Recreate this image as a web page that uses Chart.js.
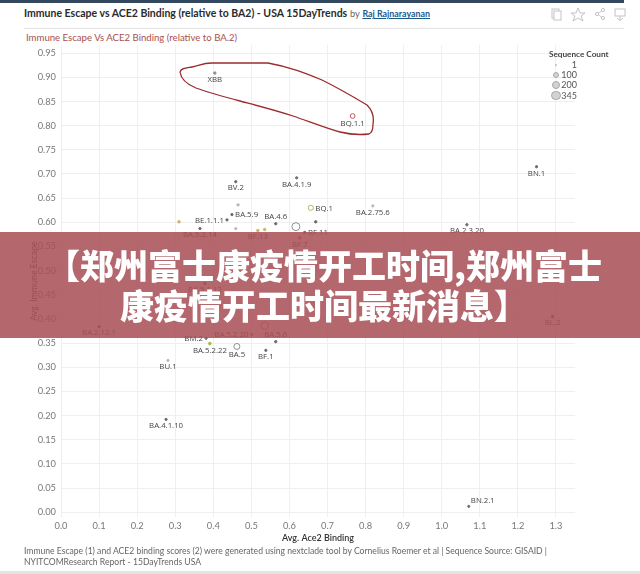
<!DOCTYPE html>
<html>
<head>
<meta charset="utf-8">
<script src="https://cdn.jsdelivr.net/npm/chart.js@4.4.1/dist/chart.umd.min.js"></script>
<style>
  html, body { margin: 0; padding: 0; }
  body { width: 640px; height: 574px; overflow: hidden; background: #fff; position: relative;
         font-family: "Lato", "Open Sans", "DejaVu Sans", sans-serif; }
  #topbar { position: absolute; left: 0; top: 0; width: 624px; height: 3px; background: #34495e; }
  #title { position: absolute; left: 24px; top: 7px; font-size: 10.5px; color: #333; white-space: nowrap; }
  #title b { font-weight: 700; color: #2b2b2b; }
  #title .by { color: #666; font-size: 9.2px; }
  #title .author { color: #1d5a8c; text-decoration: underline; font-weight: 700; font-size: 8.9px; }
  #sep { position: absolute; left: 24px; top: 28px; width: 600px; height: 1px; background: #e2e2e2; }
  #subtitle { position: absolute; left: 26px; top: 32px; font-size: 9.6px; color: #a8504f; white-space: nowrap; }
  #icons { position: absolute; left: 545px; top: 6px; }
  #chartbox { position: absolute; left: 0; top: 0; width: 640px; height: 574px; }
  #loop { position: absolute; left: 0; top: 0; width: 640px; height: 574px; pointer-events: none; }
  #legend { position: absolute; left: 549px; top: 49px; font-size: 8.2px; color: #555; }
  #legend .lt { font-weight: 700; color: #444; white-space: nowrap; }
  #legend .row { position: absolute; left: 0; width: 28px; height: 10px; }
  #legend .row span { position: absolute; right: 0; top: 0; line-height: 10px; font-size: 9px; color: #555; }
  #legend .row i { position: absolute; border-radius: 50%; background: #d2d2d2; border: 1px solid #a8a8a8; box-sizing: border-box; }
  #footer { position: absolute; left: 24px; top: 546px; font-size: 8.6px; color: #666; line-height: 11px; white-space: nowrap; }
  #bottombar { position: absolute; left: 0; top: 571px; width: 640px; height: 3px; background: #e4e4e4; }
  #banner { position: absolute; left: 0; top: 232px; width: 640px; height: 106px; background: rgba(168, 78, 84, 0.86);
            color: #fff; text-align: center; font-family: "Noto Sans CJK SC", sans-serif; font-weight: 900;
            font-size: 34px; line-height: 40px; padding-top: 13px; padding-left: 8px; box-sizing: border-box; white-space: nowrap; }
</style>
</head>
<body>
<div id="topbar"></div>
<div id="title"><b>Immune Escape vs ACE2 Binding (relative to BA2) - USA 15DayTrends</b> <span class="by">by</span> <span class="author">Raj Rajnarayanan</span></div>
<svg id="icons" width="92" height="16" viewBox="0 0 92 16">
  <g fill="none" stroke="#c4c4c4" stroke-width="1">
    <rect x="7" y="3" width="7" height="9"/><rect x="9" y="5" width="7" height="9" fill="#fff"/>
    <path d="M33 2 L35 7 L40 7 L36 10 L38 15 L33 12 L28 15 L30 10 L26 7 L31 7 Z"/>
    <circle cx="52" cy="8" r="1.6"/><circle cx="58" cy="4" r="1.6"/><circle cx="58" cy="12" r="1.6"/>
    <path d="M53.5 7 L56.5 5 M53.5 9 L56.5 11"/>
    <rect x="70" y="3" width="10" height="7"/><path d="M75 10 L75 14 M72 12 L75 14.5 L78 12"/>
  </g>
</svg>
<div id="sep"></div>
<div id="subtitle">Immune Escape Vs ACE2 Binding (relative to BA.2)</div>

<div id="chartbox"><canvas id="c" width="640" height="574"></canvas></div>

<svg id="loop" viewBox="0 0 640 574">
  <path d="M180 72 C181 68 186 68 192 67 C198 66 203 63 212 63 L268 63 C290 67 305 73 322 80 C340 89 357 99 367 105 C373 111 374 118 373 124 C373 130 372 133 369 134 C360 135 348 134 340 132 C325 128 308 121 293 116 C275 110 255 105 240 101 C225 97 210 93 196 88 C186 84 181 79 180 72 Z"
        fill="none" stroke="#9b2b2e" stroke-width="1.3"/>
</svg>

<div id="legend">
  <div class="lt">Sequence Count</div>
</div>

<div id="footer">Immune Escape (1) and ACE2 binding scores (2) were generated using nextclade tool by Cornelius Roemer et al | Sequence Source: GISAID |<br>NYITCOMResearch Report - 15DayTrends USA</div>
<div id="bottombar"></div>

<div id="banner">【郑州富士康疫情开工时间,郑州富士<br>康疫情开工时间最新消息】</div>

<script>
// ---------------- DATA ----------------
const variants = [
  "XBB", "BQ.1.1", "BN.1", "BA.2.75.6", "BA.2.3.20", "BQ.1", "BA.4.1.9", "BV.2",
  "BA.5.9", "", "BE.1.1.1", "", "", "BA.5.2.14", "BA.4.6", "", "", "BF.13", "",
  "BF.11", "BF.7", "BA.5.1.12", "BA.2.12.1", "BM.2", "BA.5.2.22", "BA.5.2.20",
  "BA.5", "BA.5.6", "", "BF.1", "BU.1", "BA.4.1.10", "BN.2.1", "BL.2"
];
const ace2Binding = [
  0.404, 0.766, 1.249, 0.819, 1.066, 0.656, 0.619, 0.459,
  0.449, 0.465, 0.436, 0.310, 0.459, 0.365, 0.564, 0.617, 0.669, 0.517, 0.535,
  0.640, 0.627, 0.378, 0.100, 0.381, 0.391, 0.501,
  0.462, 0.564, 0.535, 0.538, 0.281, 0.276, 1.071, 1.291
];
const immuneEscape = [
  0.909, 0.820, 0.715, 0.634, 0.595, 0.630, 0.692, 0.684,
  0.616, 0.636, 0.605, 0.601, 0.587, 0.587, 0.597, 0.591, 0.601, 0.583, 0.585,
  0.579, 0.568, 0.473, 0.384, 0.360, 0.349, 0.368,
  0.343, 0.353, 0.386, 0.335, 0.314, 0.192, 0.012, 0.405
];
const sequenceCount = [
  3, 70, 2, 2, 2, 90, 2, 2,
  2, 3, 2, 4, 2, 2, 2, 300, 3, 5, 5,
  3, 8, 2, 3, 2, 6, 3,
  140, 3, 250, 2, 2, 2, 1, 2
];
const legendCounts = [1, 100, 200, 345];

const xTicks = [0, 0.1, 0.2, 0.3, 0.4, 0.5, 0.6, 0.7, 0.8, 0.9, 1.0, 1.1, 1.2, 1.3];
const xTickLabels = ["0.0","0.1","0.2","0.3","0.4","0.5","0.6","0.7","0.8","0.9","1.0","1.1","1.2","1.3"];
const yTicks = [0, 0.05, 0.10, 0.15, 0.20, 0.25, 0.30, 0.35, 0.40, 0.45, 0.50, 0.55, 0.60, 0.65, 0.70, 0.75, 0.80, 0.85, 0.90, 0.95];
const yTickLabels = ["0.00","0.05","0.10","0.15","0.20","0.25","0.30","0.35","0.40","0.45","0.50","0.55","0.60","0.65","0.70","0.75","0.80","0.85","0.90","0.95"];

// ---------------- STYLE (kept apart from data) ----------------
const markTone = [
  "gray", "red", "dark", "light", "dark", "olive", "dark", "dark",
  "dark", "light", "dark", "yellow", "light", "dark", "dark", "gray", "dark", "yellow", "yellow",
  "dark", "rose", "dark", "dark", "dark", "lime", "rose",
  "gray", "dark", "rose", "dark", "light", "dark", "dark", "dark"
];
const labelPlacement = [
  "below", "below", "below", "below", "below", "right", "below", "below",
  "right", "", "left", "", "", "below", "above", "", "", "below", "",
  "right", "below", "below", "below", "left", "below", "left",
  "below", "above", "", "below", "below", "below", "aboveright", "below"
];
const toneColors = {
  dark: "#6a6a6a", light: "#b9b9b9", gray: "#8f8f8f", red: "#c8555a",
  olive: "#b9b25e", yellow: "#cdb85a", lime: "#a9b94c", rose: "#cf8a7c"
};
function radiusFor(count) { return 0.9 + 3.3 * Math.sqrt(count / 345); }

// legend (built from legendCounts)
const legendEl = document.getElementById('legend');
legendCounts.forEach((c, i) => {
  const row = document.createElement('div');
  row.className = 'row';
  row.style.top = (11 + i * 10.2) + 'px';
  const r = radiusFor(c) + (c === 1 ? 0 : 0.6);
  const dot = document.createElement('i');
  dot.style.width = dot.style.height = (2 * r) + 'px';
  dot.style.left = (7 - r) + 'px';
  dot.style.top = (5 - r) + 'px';
  if (c === 1) { dot.style.background = '#bbb'; dot.style.border = 'none'; }
  const s = document.createElement('span');
  s.textContent = c;
  row.appendChild(dot); row.appendChild(s);
  legendEl.appendChild(row);
});

const labelPlugin = {
  id: 'pointLabels',
  afterDatasetsDraw(chart) {
    const ctx = chart.ctx;
    const meta = chart.getDatasetMeta(0);
    ctx.save();
    ctx.font = '7.8px "Open Sans", "Lato", sans-serif';
    ctx.fillStyle = '#444';
    meta.data.forEach((pt, i) => {
      const name = variants[i];
      const place = labelPlacement[i];
      if (!name || !place) return;
      const r = pt.options.radius;
      if (place === 'below') {
        ctx.textAlign = 'center'; ctx.textBaseline = 'top';
        ctx.fillText(name, pt.x, pt.y + r + 1.5);
      } else if (place === 'above') {
        ctx.textAlign = 'center'; ctx.textBaseline = 'bottom';
        ctx.fillText(name, pt.x, pt.y - r - 1.5);
      } else if (place === 'right') {
        ctx.textAlign = 'left'; ctx.textBaseline = 'middle';
        ctx.fillText(name, pt.x + r + 2, pt.y + 0.5);
      } else if (place === 'left') {
        ctx.textAlign = 'right'; ctx.textBaseline = 'middle';
        ctx.fillText(name, pt.x - r - 2, pt.y + 0.5);
      } else if (place === 'aboveright') {
        ctx.textAlign = 'left'; ctx.textBaseline = 'bottom';
        ctx.fillText(name, pt.x + r + 1, pt.y - r - 0.5);
      }
    });
    ctx.restore();
  }
};

const points = variants.map((n, i) => ({ x: ace2Binding[i], y: immuneEscape[i] }));
const radii = sequenceCount.map(radiusFor);
const borders = markTone.map(t => toneColors[t]);
const fills = markTone.map((t, i) => radii[i] < 2 ? toneColors[t] : 'rgba(255,255,255,0.4)');

new Chart(document.getElementById('c'), {
  type: 'scatter',
  data: {
    datasets: [{
      data: points,
      pointRadius: radii,
      pointHoverRadius: radii,
      pointBorderColor: borders,
      pointBackgroundColor: fills,
      pointBorderWidth: 1
    }]
  },
  options: {
    responsive: false,
    animation: false,
    events: [],
    layout: { padding: { left: 0, right: 65, top: 45, bottom: 0 } },
    plugins: { legend: { display: false }, tooltip: { enabled: false } },
    scales: {
      x: {
        type: 'linear', min: 0, max: 1.35,
        afterBuildTicks: s => { s.ticks = xTicks.map(v => ({ value: v })); },
        afterFit: s => { s.height = 57; },
        grid: { color: '#efefef', drawTicks: false, lineWidth: 1 },
        border: { display: false },
        ticks: { callback: (v, i) => xTickLabels[i], color: '#777', padding: 3,
                 font: { family: 'Lato, "Open Sans", sans-serif', size: 9.3 }, maxRotation: 0, autoSkip: false },
        title: { display: true, text: 'Avg. Ace2 Binding', color: '#333',
                 font: { family: 'Lato, "Open Sans", sans-serif', size: 9, weight: '600' },
                 padding: { top: 0, bottom: 31 } }
      },
      y: {
        type: 'linear', min: -0.01, max: 0.967,
        afterBuildTicks: s => { s.ticks = yTicks.map(v => ({ value: v })); },
        afterFit: s => { s.width = 61; },
        grid: { color: '#efefef', drawTicks: false, lineWidth: 1 },
        border: { display: false },
        ticks: { callback: (v, i) => yTickLabels[i], color: '#777', padding: 5,
                 font: { family: 'Lato, "Open Sans", sans-serif', size: 9.3 }, autoSkip: false },
        title: { display: true, text: 'Avg. Immune Escape', color: '#555',
                 font: { family: 'Lato, "Open Sans", sans-serif', size: 8.8 },
                 padding: { top: 29, bottom: 0 } }
      }
    }
  },
  plugins: [labelPlugin]
});
</script>
</body>
</html>
